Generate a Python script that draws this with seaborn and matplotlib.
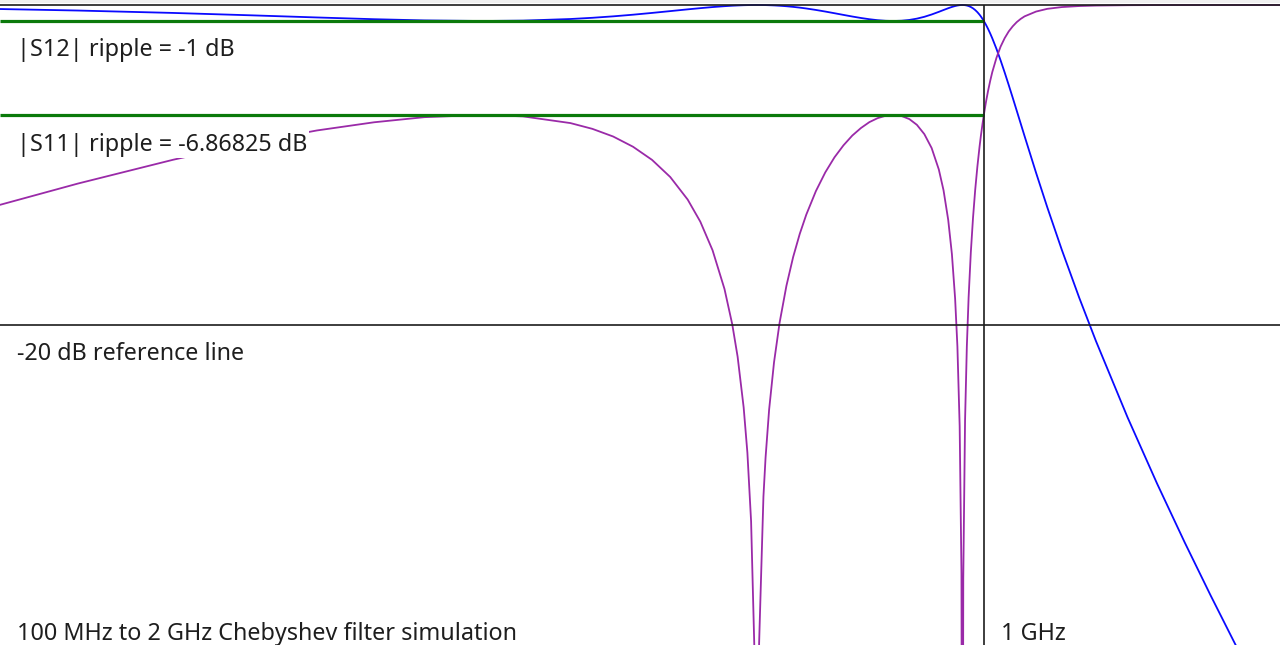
import matplotlib
matplotlib.use("Agg")
import matplotlib.pyplot as plt
from matplotlib.patches import Rectangle
import seaborn as sns
import pandas as pd

# ---- data ----
freq_mhz = [100, 120, 150, 180, 210, 240, 270, 309, 340, 380,
            400, 420, 440, 460, 480, 500, 515, 530, 545, 555,
            562, 570, 575, 580, 585, 587.8, 591, 597, 600, 605,
            612, 620, 630, 640, 650, 660, 675, 690, 705, 720,
            735, 750, 765, 780, 795, 809, 825, 840, 855, 870,
            885, 900, 910, 920, 928, 935, 940, 945, 949, 951.1,
            953, 957, 961, 965, 970, 975, 980, 985, 990, 993,
            997, 1000, 1005, 1010, 1015, 1020, 1030, 1040, 1050, 1060,
            1070, 1080, 1090, 1100, 1130, 1160, 1200, 1250, 1300, 1400,
            1500, 1600, 1700, 1800, 1900, 2000]

s11_db = [-12.49, -11.16, -9.67, -8.60, -7.84, -7.33, -7.01, -6.87, -6.96, -7.38,
          -7.74, -8.22, -8.86, -9.68, -10.75, -12.16, -13.54, -15.33, -17.75, -19.96,
          -21.98, -25.15, -27.98, -32.26, -41.16, -86.7, -39.89, -30.73, -28.28, -25.29,
          -22.33, -19.86, -17.55, -15.75, -14.30, -13.10, -11.63, -10.46, -9.52, -8.77,
          -8.16, -7.69, -7.32, -7.07, -6.92, -6.87, -6.94, -7.13, -7.49, -8.07,
          -8.94, -10.28, -11.58, -13.43, -15.57, -18.35, -21.33, -26.32, -35.52, -68.9,
          -35.83, -25.96, -21.34, -18.27, -15.46, -13.30, -11.55, -10.10, -8.86, -8.20,
          -7.41, -6.87, -6.06, -5.36, -4.74, -4.19, -3.30, -2.60, -2.07, -1.65,
          -1.33, -1.07, -0.87, -0.71, -0.41, -0.24, -0.13, -0.065, -0.035, -0.012,
          -0.004, -0.002, -0.001, -0.0004, -0.0002, -0.0001]

s12_db = [-0.252, -0.346, -0.496, -0.645, -0.779, -0.888, -0.963, -1.000, -0.976, -0.876,
          -0.800, -0.709, -0.606, -0.495, -0.382, -0.272, -0.197, -0.129, -0.074, -0.044,
          -0.028, -0.013, -0.007, -0.003, -0.0003, 0.0, -0.0004, -0.004, -0.006, -0.013,
          -0.025, -0.045, -0.077, -0.117, -0.164, -0.218, -0.309, -0.409, -0.514, -0.619,
          -0.720, -0.811, -0.889, -0.950, -0.988, -1.000, -0.983, -0.934, -0.852, -0.738,
          -0.593, -0.428, -0.313, -0.202, -0.122, -0.064, -0.032, -0.010, -0.001, 0.0,
          -0.001, -0.011, -0.032, -0.065, -0.125, -0.208, -0.315, -0.447, -0.605, -0.713,
          -0.871, -1.000, -1.236, -1.496, -1.778, -2.082, -2.742, -3.460, -4.219, -5.003,
          -5.801, -6.603, -7.401, -8.192, -10.485, -12.638, -15.288, -18.288, -21.002, -25.779,
          -29.914, -33.583, -36.894, -39.919, -42.711, -45.306]

freq_min_mhz = 100
freq_max_mhz = 2000
cutoff_mhz = 1000
s12_ripple_db = -1.0
s11_ripple_db = -6.86825
ref_line_db = -20.0
db_min = -40.0
db_max = 0.3125

label_s12 = "|S12| ripple = -1 dB"
label_s11 = "|S11| ripple = -6.86825 dB"
label_ref = "-20 dB reference line"
label_title = "100 MHz to 2 GHz Chebyshev filter simulation"
label_cutoff = "1 GHz"

# ---- plot ----
sns.set_style("white")
plt.rcParams["font.family"] = ["Noto Sans", "DejaVu Sans"]

fig = plt.figure(figsize=(12.8, 6.45), dpi=100)
fig.patch.set_facecolor("white")
ax = fig.add_axes([0, 0, 1, 1])

df = pd.concat([
    pd.DataFrame({"freq": freq_mhz, "db": s12_db, "series": "|S12|"}),
    pd.DataFrame({"freq": freq_mhz, "db": s11_db, "series": "|S11|"}),
], ignore_index=True)

ax.set_xscale("log")
sns.lineplot(data=df, x="freq", y="db", hue="series",
             palette={"|S12|": "#0a0aff", "|S11|": "#9a2aa8"},
             estimator=None, legend=False, ax=ax, linewidth=1.3, zorder=2)

ax.set_xlim(freq_min_mhz, freq_max_mhz)
ax.set_ylim(db_min, db_max)
ax.set_axis_off()

line_kw = dict(color="#1c1c1c", linewidth=1.2, zorder=4)
ax.axhline(0, **line_kw)
ax.axhline(ref_line_db, **line_kw)
ax.vlines(cutoff_mhz, db_min, 0, **line_kw)
ax.hlines([s12_ripple_db, s11_ripple_db], freq_min_mhz, cutoff_mhz,
          color="#0b7a0b", linewidth=2.3, zorder=3)

txt_kw = dict(textcoords="offset pixels", ha="left", va="center",
              fontsize=16.8, color="#1e1e1e", zorder=6,
              bbox=dict(facecolor="white", edgecolor="none", pad=1.0))
ax.annotate(label_s12, xy=(freq_min_mhz, s12_ripple_db), xytext=(17, -29), **txt_kw)
ax.annotate(label_s11, xy=(freq_min_mhz, s11_ripple_db), xytext=(17, -30), **txt_kw)
ax.annotate(label_ref, xy=(freq_min_mhz, ref_line_db), xytext=(17, -29), **txt_kw)
ax.annotate(label_title, xy=(freq_min_mhz, db_min), xytext=(17, 11), **txt_kw)
ax.annotate(label_cutoff, xy=(cutoff_mhz, db_min), xytext=(17, 11), **txt_kw)

fig.add_artist(Rectangle((0, 1 - 3 / 645), 1, 3 / 645, transform=fig.transFigure,
                         facecolor="#f0f0f0", edgecolor="none", zorder=10))

fig.savefig("out.png", dpi=100, facecolor="white")
